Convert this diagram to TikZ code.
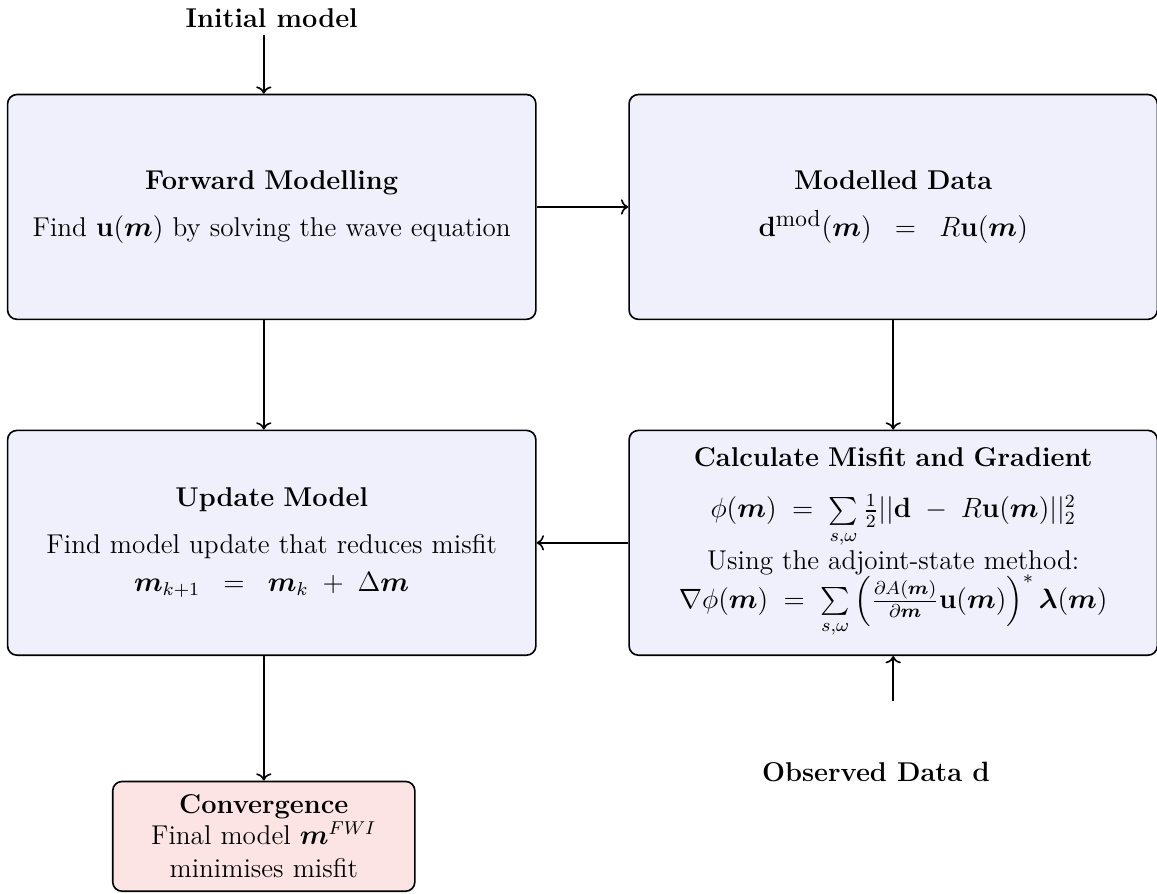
\documentclass[tikz,border=0pt]{standalone}
\usepackage{tikz}
\usetikzlibrary{arrows.meta,positioning,calc}
\usepackage{xcolor}
\usepackage{amsmath}
\usepackage{bm}
\definecolor{BoxBlue}{HTML}{F0F0FC}
\definecolor{BoxRed} {HTML}{FCE4E4}
\newcommand{\bodyfont}{\fontsize{11.7}{14.2}\selectfont}
\tikzset{
  stagebox/.style={rectangle,rounded corners=4pt,draw=black,line width=0.7pt,
                   fill=#1,minimum width=7.99cm,minimum height=3.4cm,
                   text width=7.6cm,align=center,font=\bodyfont},
  endbox/.style={rectangle,rounded corners=4pt,draw=black,line width=0.7pt,
                 fill=BoxRed,minimum width=4.57cm,minimum height=1.66cm,
                 text width=4.3cm,align=center,inner sep=2pt,font=\bodyfont},
  lbl/.style={font=\bodyfont\bfseries,inner sep=3pt},
  arr/.style={->,line width=0.7pt},
}

\begin{document}
\begin{tikzpicture}
  \useasboundingbox (0,0) rectangle (17.5,-13.52);

  \node[lbl] (init) at (4.11,-0.27) {Initial model};

  \node[stagebox=BoxBlue] (fwd) at (4.11,-3.13)
    {\textbf{Forward Modelling}\\[6pt]
     Find $\mathbf{u}(\bm{m})$ by solving the wave equation};

  \node[stagebox=BoxBlue] (moddata) at (13.51,-3.13)
    {\textbf{Modelled Data}\\[6pt]
     \mbox{$\mathbf{d}^{\mbox{\fontsize{10}{12}\selectfont mod}}(\bm{m})\;\;=\;\;R\mathbf{u}(\bm{m})$}};

  \node[stagebox=BoxBlue] (update) at (4.11,-8.21)
    {\textbf{Update Model}\\[6pt]
     Find model update that reduces misfit\\[2pt]
     \mbox{$\bm{m}_{k+1}\;\;=\;\;\bm{m}_k\;+\;\Delta\bm{m}$}};

  \node[stagebox=BoxBlue] (misfit) at (13.51,-8.21)
    {\textbf{Calculate Misfit and Gradient}\\[8pt]
     \mbox{$\phi(\bm{m})\;=\;\sum\limits_{s,\omega}\tfrac{1}{2}||\mathbf{d}\;-\;R\mathbf{u}(\bm{m})||_2^2$}\\[0pt]
     Using the adjoint-state method:\\[-1pt]
     \mbox{$\nabla\phi(\bm{m})\;=\;\sum\limits_{s,\omega}\left(\frac{\partial A(\bm{m})}{\partial\bm{m}}\mathbf{u}(\bm{m})\right)^{*}\bm{\lambda}(\bm{m})$}};

  \node[endbox] (conv) at (3.99,-12.65)
    {\textbf{Convergence}\\[-1pt]
     Final model $\bm{m}^{FWI}$\\
     minimises misfit};

  \node[lbl] (obs) at (13.25,-11.68) {Observed Data $\mathbf{d}$};
  \coordinate (obstop) at (13.51,-10.6);

  \draw[arr] (init.south -| conv) -- (fwd.north -| conv);
  \draw[arr] (fwd) -- (moddata);
  \draw[arr] (fwd.south -| conv) -- (update.north -| conv);
  \draw[arr] (moddata) -- (misfit);
  \draw[arr] (misfit) -- (update);
  \draw[arr] (obstop) -- (misfit);
  \draw[arr] (update.south -| conv) -- (conv);

\end{tikzpicture}
\end{document}
